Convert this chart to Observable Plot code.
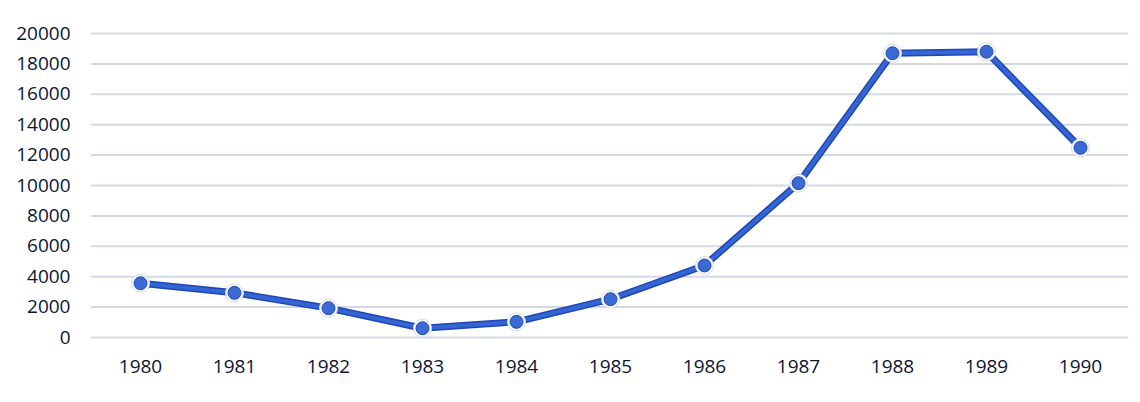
<!DOCTYPE html>
<html>
<head>
<meta charset="utf-8">
<script src="https://cdn.jsdelivr.net/npm/d3@7"></script>
<script src="https://cdn.jsdelivr.net/npm/@observablehq/plot@0.6"></script>
<style>
  html, body { margin: 0; padding: 0; background: #ffffff; }
  #chart svg { display: block; }
</style>
</head>
<body>
<div id="chart"></div>
<script>
const years = ["1980", "1981", "1982", "1983", "1984", "1985", "1986", "1987", "1988", "1989", "1990"];
const values = [3570, 2940, 1930, 610, 1030, 2520, 4740, 10150, 18700, 18800, 12480];
const yTicks = [0, 2000, 4000, 6000, 8000, 10000, 12000, 14000, 16000, 18000, 20000];

const data = years.map((year, i) => ({year, value: values[i]}));

const chart = Plot.plot({
  width: 1140,
  height: 402,
  marginLeft: 91,
  marginRight: 12,
  marginTop: 33,
  marginBottom: 65,
  style: {fontFamily: "'Open Sans', sans-serif", fontSize: "19px", color: "#0b1633", background: "#ffffff"},
  x: {type: "point", domain: years, padding: 0.5, label: null, tickSize: 0, tickPadding: 22},
  y: {domain: [0, 20000], ticks: yTicks, label: null, tickSize: 0, tickPadding: 21, tickFormat: d => String(d)},
  marks: [
    Plot.gridY(yTicks, {stroke: "#d3d9e4", strokeOpacity: 1, strokeWidth: 2}),
    Plot.line(data, {x: "year", y: "value", stroke: "#1c47b5", strokeWidth: 7, strokeLinejoin: "round"}),
    Plot.line(data, {x: "year", y: "value", stroke: "#3565d3", strokeWidth: 4, strokeLinejoin: "round"}),
    Plot.dot(data, {x: "year", y: "value", r: 9, fill: "#ffffff", stroke: "#d9d9d9", strokeWidth: 1}),
    Plot.dot(data, {x: "year", y: "value", r: 6.5, fill: "#3d6ad2", stroke: "#1d4bb8", strokeWidth: 1})
  ]
});
document.getElementById("chart").appendChild(chart);
</script>
</body>
</html>
